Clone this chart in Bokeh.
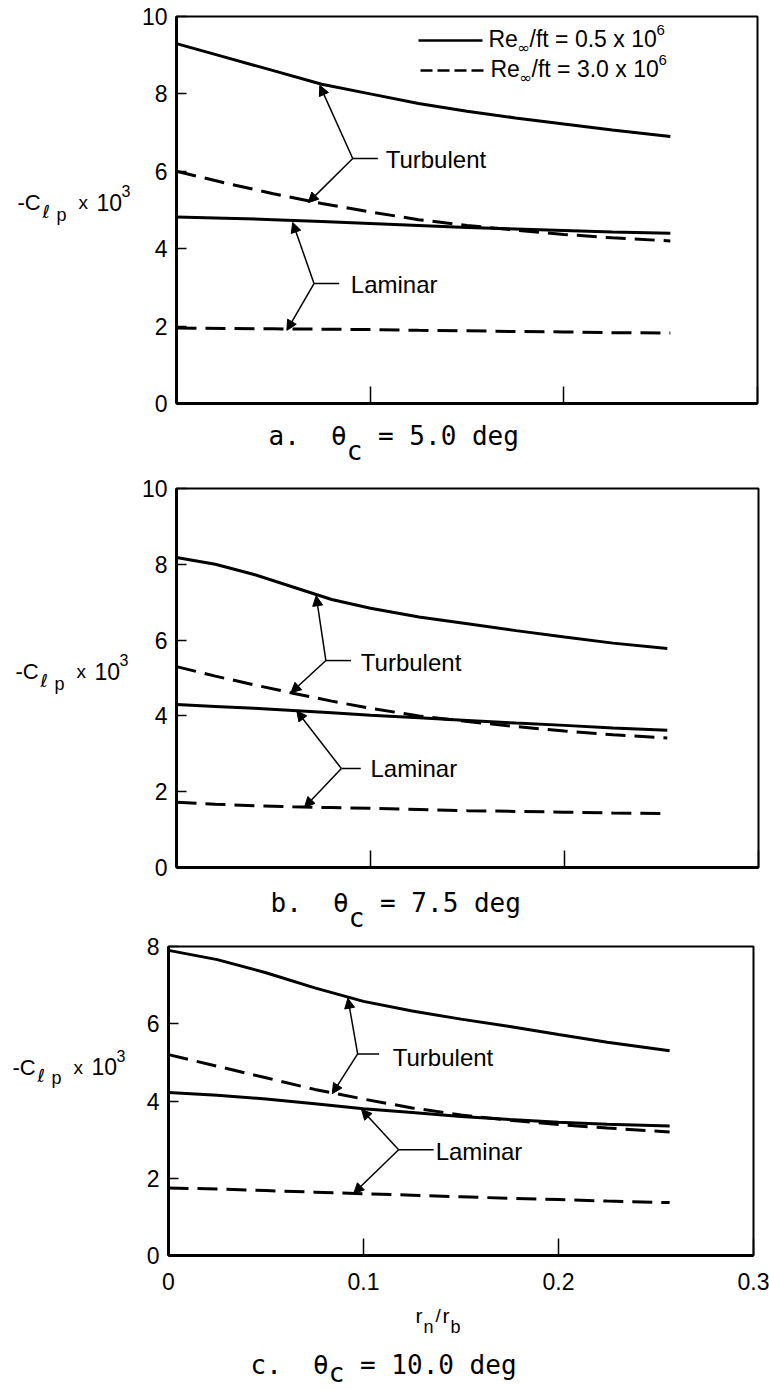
from bokeh.plotting import figure
from bokeh.layouts import column, row
from bokeh.models import Label, Arrow, NormalHead, FixedTicker, Range1d
from bokeh.embed import file_html
from bokeh.resources import INLINE

# ---------------- data ----------------
rn_rb_a = [0, 0.025, 0.05, 0.075, 0.1, 0.125, 0.15, 0.175, 0.2, 0.225, 0.255]
turb_05_a = [9.3, 8.95, 8.6, 8.25, 8.0, 7.75, 7.55, 7.38, 7.22, 7.07, 6.9]
turb_30_a = [6.0, 5.7, 5.42, 5.17, 4.95, 4.75, 4.6, 4.48, 4.37, 4.28, 4.2]
lam_05_a = [4.82, 4.79, 4.75, 4.70, 4.65, 4.60, 4.55, 4.51, 4.47, 4.43, 4.4]
lam_30_a = [1.95, 1.94, 1.93, 1.92, 1.91, 1.89, 1.88, 1.86, 1.85, 1.83, 1.82]

rn_rb_b = [0, 0.02, 0.04, 0.06, 0.08, 0.1, 0.125, 0.15, 0.175, 0.2, 0.225, 0.253]
turb_05_b = [8.18, 8.0, 7.73, 7.4, 7.07, 6.84, 6.61, 6.43, 6.25, 6.08, 5.92, 5.78]
turb_30_b = [5.3, 5.05, 4.82, 4.6, 4.39, 4.2, 4.0, 3.85, 3.72, 3.6, 3.5, 3.42]
lam_05_b = [4.3, 4.25, 4.2, 4.14, 4.08, 4.02, 3.95, 3.88, 3.81, 3.75, 3.68, 3.62]
lam_30_b = [1.72, 1.67, 1.63, 1.6, 1.58, 1.56, 1.53, 1.5, 1.48, 1.46, 1.44, 1.42]

rn_rb_c = [0, 0.025, 0.05, 0.075, 0.1, 0.125, 0.15, 0.175, 0.2, 0.225, 0.257]
turb_05_c = [7.9, 7.66, 7.32, 6.93, 6.58, 6.33, 6.12, 5.93, 5.72, 5.52, 5.3]
turb_30_c = [5.2, 4.9, 4.6, 4.3, 4.05, 3.82, 3.64, 3.5, 3.39, 3.3, 3.2]
lam_05_c = [4.22, 4.15, 4.05, 3.93, 3.8, 3.7, 3.6, 3.52, 3.45, 3.4, 3.35]
lam_30_c = [1.75, 1.72, 1.68, 1.64, 1.6, 1.56, 1.52, 1.48, 1.45, 1.41, 1.37]

x_ticks = [0, 0.1, 0.2, 0.3]
x_tick_labels = ["0", "0.1", "0.2", "0.3"]
y_ticks_ab = [0, 2, 4, 6, 8, 10]
y_ticks_c = [0, 2, 4, 6, 8]
panel_letters = ["a.", "b.", "c."]
cone_angles = ["5.0", "7.5", "10.0"]
legend_values = ["0.5", "3.0"]
regime_labels = ["Turbulent", "Laminar"]

# callout anchors (data units): junction, leader end, text, tip up, tip down
turb_ann = [
    dict(j=(0.091, 6.33), e=0.104, t=(0.108, 6.30), up=(0.074, 8.22), dn=(0.068, 5.19)),
    dict(j=(0.077, 5.46), e=0.090, t=(0.095, 5.40), up=(0.072, 7.17), dn=(0.059, 4.61)),
    dict(j=(0.097, 5.22), e=0.108, t=(0.115, 5.12), up=(0.092, 6.66), dn=(0.084, 4.19)),
]
lam_ann = [
    dict(j=(0.071, 3.10), e=0.084, t=(0.090, 3.07), up=(0.060, 4.68), dn=(0.057, 1.89)),
    dict(j=(0.085, 2.61), e=0.095, t=(0.100, 2.60), up=(0.062, 4.13), dn=(0.066, 1.59)),
    dict(j=(0.118, 2.74), e=0.136, t=(0.137, 2.70), up=(0.099, 3.78), dn=(0.095, 1.61)),
]

SANS = "Liberation Sans"
MONO = "DejaVu Sans Mono"
PAGE_R = 769  # right edge of the drawing on the page
MID = 0.35    # distance from baseline to the vertical middle of a text box, in em

# page geometry (pixels on the page) of each panel row and its caption strip
geo = [
    dict(y0=0, h=420, x0=136, left=176, right=757, ftop=16, fbot=403, ymax=10,
         ylab=(17, 210), cap_y0=420, cap_h=50, cap_left=268, cap_base=445, sub=15),
    dict(y0=470, h=415, x0=136, left=176, right=758, ftop=488, fbot=867, ymax=10,
         ylab=(15, 678), cap_y0=885, cap_h=50, cap_left=270, cap_base=912, sub=15),
    dict(y0=935, h=367, x0=128, left=168, right=753, ftop=946, fbot=1255, ymax=8,
         ylab=(12, 1086), cap_y0=1302, cap_h=88, cap_left=250, cap_base=1374, sub=8),
]


def X(g, px):
    return (px - g["left"]) / (g["right"] - g["left"]) * 0.3


def Y(g, py):
    return (g["fbot"] - py) / (g["fbot"] - g["ftop"]) * g["ymax"]


def label(p, x, y, text, size, font=SANS):
    p.add_layout(Label(x=x, y=y, text=text, text_font=font,
                       text_font_size=f"{size}px", text_align="left",
                       text_baseline="middle", text_color="black"))


def page_label(p, px, base, text, size, font=SANS):
    """Label in a strip whose data units are page pixels; base = baseline."""
    label(p, px, base - MID * size, text, size, font)


def panel_label(p, g, px, base, text, size, font=SANS):
    """Label inside a panel, positioned by page pixels; base = baseline."""
    label(p, X(g, px), Y(g, base - MID * size), text, size, font)


def strip(x0, x1, y0, y1):
    """A bare figure whose data units are page pixels (y downwards)."""
    s = figure(width=x1 - x0, height=y1 - y0, title=None,
               x_range=Range1d(x0, x1), y_range=Range1d(y1, y0),
               x_axis_location=None, y_axis_location=None,
               output_backend="svg", toolbar_location=None,
               min_border=0, outline_line_color=None)
    s.grid.visible = False
    return s


def make_panel(i, xs, t05, t30, l05, l30, yticks, show_x_labels):
    g = geo[i]
    p = figure(width=PAGE_R - g["x0"], height=g["h"], title=None,
               x_range=Range1d(0, 0.3), y_range=Range1d(0, g["ymax"]),
               output_backend="svg", toolbar_location=None,
               min_border_left=g["left"] - g["x0"],
               min_border_right=PAGE_R - g["right"],
               min_border_top=g["ftop"] - g["y0"],
               min_border_bottom=g["y0"] + g["h"] - g["fbot"])
    p.grid.visible = False
    p.outline_line_color = "black"
    p.outline_line_width = 2

    xa = p.xaxis[0]
    xa.ticker = FixedTicker(ticks=x_ticks)
    xa.axis_line_width = 3
    xa.major_tick_in = 17
    xa.major_tick_out = 0
    xa.major_tick_line_width = 1.5
    xa.minor_tick_line_color = None
    xa.major_label_text_font = SANS
    xa.major_label_text_color = "black"
    if show_x_labels:
        xa.major_label_overrides = {t: s for t, s in zip(x_ticks, x_tick_labels)}
        xa.major_label_text_font_size = "23px"
        xa.major_label_standoff = 17
    else:
        xa.major_label_overrides = {t: "" for t in x_ticks}
        xa.major_label_text_font_size = "8px"
        xa.major_label_standoff = 0

    ya = p.yaxis[0]
    ya.ticker = FixedTicker(ticks=yticks)
    ya.axis_line_width = 3
    ya.major_tick_in = 10
    ya.major_tick_out = 0
    ya.major_tick_line_width = 1.5
    ya.minor_tick_line_color = None
    ya.major_label_text_font = SANS
    ya.major_label_text_font_size = "23px"
    ya.major_label_text_color = "black"
    ya.major_label_standoff = 9

    # curves
    p.line(xs, t05, line_width=3, line_color="black")
    p.line(xs, l05, line_width=3, line_color="black")
    p.line(xs, t30, line_width=3, line_color="black", line_dash="20 9")
    p.line(xs, l30, line_width=3, line_color="black", line_dash="20 9")

    # callouts
    for ann, name in ((turb_ann[i], regime_labels[0]), (lam_ann[i], regime_labels[1])):
        jx, jy = ann["j"]
        for tip in (ann["up"], ann["dn"]):
            p.add_layout(Arrow(end=NormalHead(size=10, fill_color="black", line_color="black"),
                               x_start=jx, y_start=jy, x_end=tip[0], y_end=tip[1],
                               line_width=1.5, line_color="black"))
        p.add_layout(Arrow(end=None, x_start=jx, y_start=jy, x_end=ann["e"], y_end=jy,
                           line_width=1.5, line_color="black"))
        label(p, ann["t"][0], ann["t"][1], name, 24)

    # y-axis title strip:  -C_{lp} x 10^3
    yl = strip(0, g["x0"], g["y0"], g["y0"] + g["h"])
    ax, ab = g["ylab"]
    page_label(yl, ax, ab, "-C", 22)
    page_label(yl, ax + 25, ab + 8, "ℓ", 18, font="DejaVu Sans")
    page_label(yl, ax + 39, ab + 12, "p", 18)
    page_label(yl, ax + 61, ab - 1, "x", 19)
    page_label(yl, ax + 79, ab, "10", 23)
    page_label(yl, ax + 104, ab - 15, "3", 16)

    # caption strip:  "a.  θc = 5.0 deg"
    cap = strip(0, PAGE_R, g["cap_y0"], g["cap_y0"] + g["cap_h"])
    pitch = 15.65
    cl, cb = g["cap_left"], g["cap_base"]
    page_label(cap, cl, cb, panel_letters[i], 26, MONO)
    page_label(cap, cl + 4 * pitch, cb, "θ", 26, MONO)
    page_label(cap, cl + 5 * pitch, cb + g["sub"], "c", 26, MONO)
    page_label(cap, cl + 7 * pitch, cb, f"= {cone_angles[i]} deg", 26, MONO)
    return p, yl, cap


pa, yla, capa = make_panel(0, rn_rb_a, turb_05_a, turb_30_a, lam_05_a, lam_30_a, y_ticks_ab, False)
pb, ylb, capb = make_panel(1, rn_rb_b, turb_05_b, turb_30_b, lam_05_b, lam_30_b, y_ticks_ab, False)
pc, ylc, capc = make_panel(2, rn_rb_c, turb_05_c, turb_30_c, lam_05_c, lam_30_c, y_ticks_c, True)

# legend inside panel a (hand drawn to keep the subscript / superscript)
ga = geo[0]
for k, (dash, base) in enumerate((("solid", 47), ("12 5", 77))):
    ly = base - 7
    pa.add_layout(Arrow(end=None, x_start=X(ga, 418 + 2 * k), y_start=Y(ga, ly),
                        x_end=X(ga, 482 + k), y_end=Y(ga, ly), line_width=2.5,
                        line_color="black", line_dash=dash))
    x0 = 488 + 2 * k
    panel_label(pa, ga, x0, base, "Re", 23)
    panel_label(pa, ga, x0 + 29, base + 6, "∞", 15, font="DejaVu Sans")
    panel_label(pa, ga, x0 + 41, base, f"/ft = {legend_values[k]} x 10", 23)
    panel_label(pa, ga, x0 + 168, base - 12, "6", 15)

# x-axis title r_n / r_b, in the caption strip of panel c
page_label(capc, 415, 1322, "r", 21)
page_label(capc, 423, 1333, "n", 18)
page_label(capc, 435, 1322, "/", 19)
page_label(capc, 442, 1322, "r", 21)
page_label(capc, 450, 1333, "b", 18)

layout = column(row(yla, pa), capa, row(ylb, pb), capb, row(ylc, pc), capc)
open("out.html", "w").write(file_html(layout, INLINE))
